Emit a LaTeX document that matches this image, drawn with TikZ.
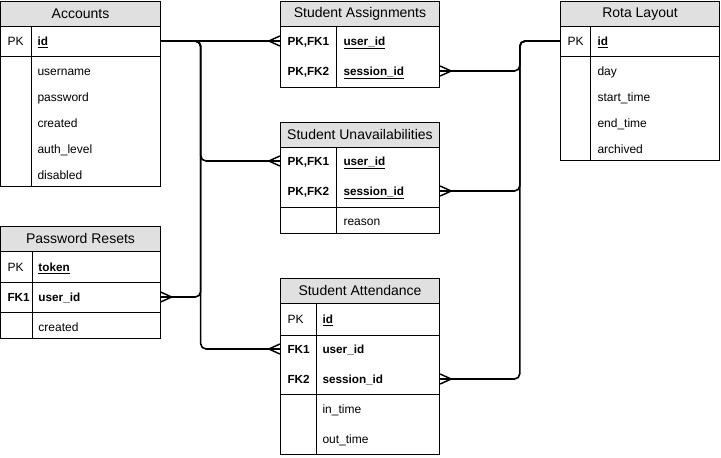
\documentclass[tikz,border=0pt]{standalone}
\usepackage{fontspec}
\setmainfont{Liberation Sans}
\usetikzlibrary{positioning}
\definecolor{headgray}{RGB}{224,224,224}

\begin{document}
\begin{tikzpicture}[x=0.75pt,y=-0.75pt,line width=0.75pt]
\tikzstyle{tablebox}=[draw=black,rectangle,inner sep=0pt,minimum width=119.5pt]
\tikzstyle{tablehead}=[tablebox,fill=headgray,minimum height=19pt,font=\fontsize{10.5}{12}\selectfont]
\tikzstyle{fieldtext}=[anchor=west,inner sep=0pt,text height=6.5pt,text depth=0pt,font=\fontsize{9}{11}\selectfont]
\tikzstyle{keytext}=[fieldtext,font=\fontsize{8.8}{11}\selectfont\bfseries]
\tikzstyle{relation}=[line width=1.2pt,rounded corners=4pt]
\tikzset{crowfoot/.pic={\draw[line width=1.1pt] (-11,0) -- (0,-5) (-11,0) -- (0,5);}}

\useasboundingbox (0,0) rectangle (721,457);

% Accounts
\node[tablebox,minimum height=138.75pt] (acc) at (80.5,93.5) {};
\node[tablehead,below=0pt of acc.north] (acc-head) {Accounts};
\draw (acc.west |- 0,56) -- (acc.east |- 0,56);
\draw (31,26) -- (31,186);
\node[fieldtext] (acc-k1) at (7,41) {PK};
\node[keytext] (acc-f1) at (37,41) {\underline{id}};
\foreach \f [count=\i] in {username,password,created,auth\_level,disabled}
  \node[fieldtext] (acc-a\i) at (37,45+26*\i) {\f};

% Password Resets
\node[tablebox,minimum height=84pt] (pr) at (80.5,282) {};
\node[tablehead,below=0pt of pr.north] (pr-head) {Password Resets};
\draw (pr.west |- 0,282) -- (pr.east |- 0,282);
\draw (pr.west |- 0,312) -- (pr.east |- 0,312);
\draw (32,252) -- (32,338);
\node[fieldtext] (pr-k1) at (7,267) {PK};
\node[keytext] (pr-f1) at (38,267) {\underline{token}};
\node[keytext] (pr-k2) at (7,297) {FK1};
\node[keytext] (pr-f2) at (38,297) {user\_id};
\node[fieldtext] (pr-a1) at (38,327) {created};

% Student Assignments
\node[tablebox,minimum height=64.5pt] (sa) at (360,44) {};
\node[tablehead,below=0pt of sa.north] (sa-head) {Student Assignments};
\draw (336,26) -- (336,87);
\node[keytext] (sa-k1) at (287,41) {PK,FK1};
\node[keytext] (sa-f1) at (343,41) {\underline{user\_id}};
\node[keytext] (sa-k2) at (287,71) {PK,FK2};
\node[keytext] (sa-f2) at (343,71) {\underline{session\_id}};

% Student Unavailabilities
\node[tablebox,minimum height=83.25pt] (su) at (360,177.5) {};
\node[tablehead,below=0pt of su.north] (su-head) {Student Unavailabilities};
\draw (su.west |- 0,207) -- (su.east |- 0,207);
\draw (336,147) -- (336,233);
\node[keytext] (su-k1) at (287,161) {PK,FK1};
\node[keytext] (su-f1) at (343,161) {\underline{user\_id}};
\node[keytext] (su-k2) at (287,191) {PK,FK2};
\node[keytext] (su-f2) at (343,191) {\underline{session\_id}};
\node[fieldtext] (su-a1) at (343,221) {reason};

% Student Attendance
\node[tablebox,minimum height=132pt] (att) at (360,366) {};
\node[tablehead,below=0pt of att.north] (att-head) {Student Attendance};
\draw (att.west |- 0,335) -- (att.east |- 0,335);
\draw (att.west |- 0,394) -- (att.east |- 0,394);
\draw (316,304) -- (316,454);
\node[fieldtext] (att-k1) at (287,319) {PK};
\node[keytext] (att-f1) at (322,319) {\underline{id}};
\node[keytext] (att-k2) at (287,349) {FK1};
\node[keytext] (att-f2) at (322,349) {user\_id};
\node[keytext] (att-k3) at (287,379) {FK2};
\node[keytext] (att-f3) at (322,379) {session\_id};
\node[fieldtext] (att-a1) at (322,409) {in\_time};
\node[fieldtext] (att-a2) at (322,439) {out\_time};

% Rota Layout
\node[tablebox,minimum height=119.25pt] (rota) at (640,80.5) {};
\node[tablehead,below=0pt of rota.north] (rota-head) {Rota Layout};
\draw (rota.west |- 0,56) -- (rota.east |- 0,56);
\draw (590,26) -- (590,160);
\node[fieldtext] (rota-k1) at (567,41) {PK};
\node[keytext] (rota-f1) at (597,41) {\underline{id}};
\foreach \f [count=\i] in {day,start\_time,end\_time,archived}
  \node[fieldtext] (rota-a\i) at (597,45+26*\i) {\f};

% relations
\draw[relation] (acc.east |- acc-k1) -- (sa.west |- sa-k1);
\draw[relation] (acc.east |- acc-k1) -- ++(40,0) |- (su.west |- su-k1);
\draw[relation] (acc.east |- acc-k1) -- ++(40,0) |- (pr.east |- pr-k2);
\draw[relation] (acc.east |- acc-k1) -- ++(40,0) |- (att.west |- att-k2);
\draw[relation] (rota.west |- rota-k1) -- ++(-40,0) |- (sa.east |- sa-k2);
\draw[relation] (rota.west |- rota-k1) -- ++(-40,0) |- (su.east |- su-k2);
\draw[relation] (rota.west |- rota-k1) -- ++(-40,0) |- (att.east |- att-k3);

\pic at (sa.west |- sa-k1) {crowfoot};
\pic at (su.west |- su-k1) {crowfoot};
\pic at (att.west |- att-k2) {crowfoot};
\pic[rotate=180] at (pr.east |- pr-k2) {crowfoot};
\pic[rotate=180] at (sa.east |- sa-k2) {crowfoot};
\pic[rotate=180] at (su.east |- su-k2) {crowfoot};
\pic[rotate=180] at (att.east |- att-k3) {crowfoot};
\end{tikzpicture}
\end{document}
